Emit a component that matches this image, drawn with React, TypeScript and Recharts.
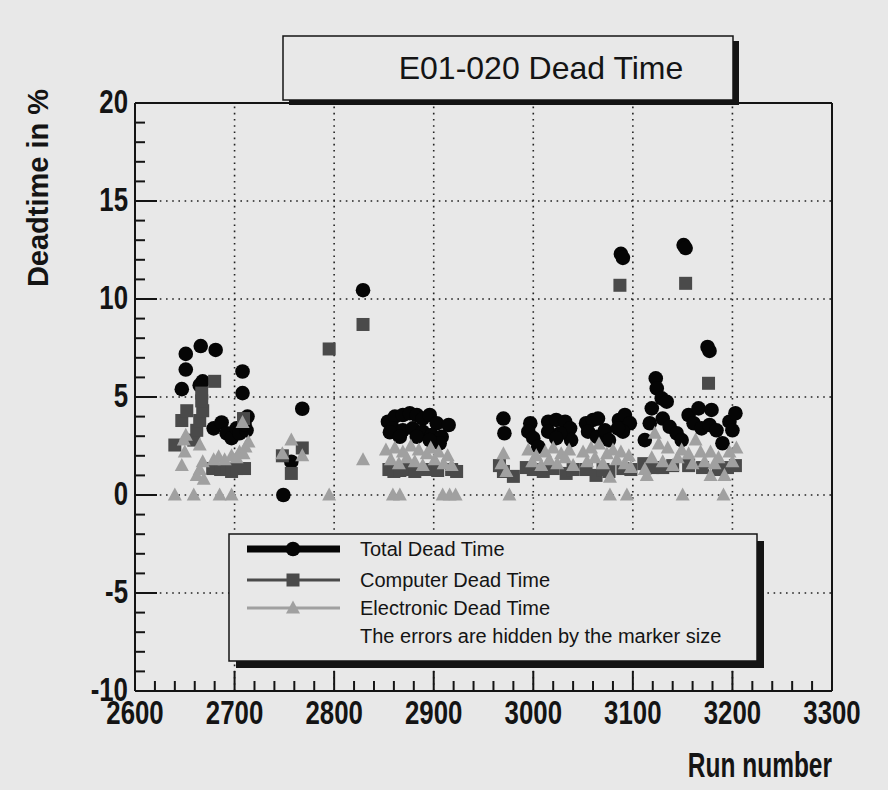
import React from "react";
import { ScatterChart, Scatter, XAxis, YAxis, ReferenceLine, Legend } from "recharts";

// run numbers and dead time (%) per series
const totalRuns = [
  2647, 2651, 2651, 2666, 2681, 2668, 2665, 2708, 2708, 2713, 2679, 2687, 2692, 2697, 2702, 2705, 2712, 2710,
  2749, 2757, 2768, 2829,
  2854, 2861, 2869, 2876, 2883, 2889, 2896, 2903, 2915, 2859, 2869, 2879, 2889, 2898, 2908, 2856, 2866, 2883, 2906, 2896,
  2970, 2971, 2997, 2995, 3000, 3005, 3015, 3023, 3032, 3037, 3038, 3015, 3027, 3023, 3053, 3060, 3065, 3055, 3064, 3072,
  3076, 3086, 3092, 3097, 3090, 3085, 3088, 3090,
  3123, 3124, 3129, 3119, 3134, 3117, 3112, 3130, 3137, 3144, 3149, 3156, 3166, 3179, 3161, 3169, 3177, 3184, 3190, 3197,
  3203, 3200, 3175, 3177, 3151, 3153,
];
const totalDeadTime = [
  5.4, 7.2, 6.4, 7.6, 7.4, 5.8, 5.6, 6.3, 5.2, 4.0, 3.4, 3.7, 3.15, 2.9, 3.4, 3.15, 3.3, 3.6,
  0.0, 1.7, 4.4, 10.45,
  3.74, 4.0, 4.08, 4.17, 4.08, 3.9, 4.08, 3.66, 3.57, 3.4, 3.3, 3.4, 3.23, 3.06, 2.97, 3.2, 2.97, 2.97, 2.64, 2.8,
  3.9, 3.15, 3.66, 3.23, 2.9, 2.46, 3.74, 3.83, 3.74, 3.4, 2.8, 3.23, 3.15, 2.9, 3.66, 3.83, 3.9, 3.23, 2.97, 3.3,
  2.8, 3.83, 4.08, 3.66, 3.23, 3.4, 12.3, 12.1,
  5.95, 5.44, 4.93, 4.42, 4.76, 3.66, 2.8, 3.9, 3.48, 3.15, 2.8, 4.08, 4.42, 4.34, 3.66, 3.4, 3.57, 3.3, 2.64, 3.74,
  4.17, 3.3, 7.55, 7.35, 12.75, 12.6,
];

const computerRuns = [
  2640, 2647, 2652, 2659, 2662, 2665, 2667, 2668, 2667, 2680, 2678, 2686, 2692, 2697, 2702, 2710, 2709,
  2748, 2757, 2768, 2795, 2829,
  2855, 2860, 2866, 2871, 2881, 2893, 2904, 2918, 2923,
  2966, 2970, 2980, 2993, 3000, 3010, 3020, 3033, 3040, 3053, 3063, 3070, 3076, 3087, 3090, 3098,
  3111, 3120, 3130, 3140, 3153, 3156, 3170, 3176, 3186, 3195, 3203,
];
const computerDeadTime = [
  2.55, 3.8, 4.3, 2.8, 3.3, 3.8, 5.2, 4.3, 4.8, 5.8, 1.35, 1.3, 1.3, 1.2, 1.35, 1.35, 3.9,
  2.0, 1.1, 2.4, 7.45, 8.7,
  1.3, 1.2, 1.25, 1.3, 1.2, 1.3, 1.25, 1.3, 1.2,
  1.5, 1.2, 0.95, 1.4, 1.3, 1.2, 1.35, 1.1, 1.3, 1.3, 1.0, 1.3, 1.2, 10.7, 1.35, 1.3,
  1.6, 1.4, 1.4, 1.5, 10.8, 1.5, 1.4, 5.7, 1.3, 1.4, 1.5,
];

const electronicRuns = [
  2640, 2659, 2685, 2697, 2795, 2859, 2866, 2909, 2916, 2922, 2976, 3077, 3094, 3150, 3191,
  2647, 2649, 2650, 2651, 2665, 2668, 2665, 2662, 2669, 2679, 2684, 2690, 2697, 2702, 2705, 2709, 2711, 2714, 2708,
  2748, 2757, 2768, 2829,
  2852, 2857, 2861, 2865, 2869, 2873, 2877, 2881, 2885, 2889, 2893, 2897, 2901, 2905, 2910, 2914, 2918,
  2968, 2970, 2973, 2995, 2999, 3003, 3008, 3012, 3016, 3020, 3024, 3028, 3032, 3036, 3040, 3050, 3054, 3058, 3062,
  3066, 3070, 3074, 3077, 3080, 3084, 3088, 3092, 3096, 3098,
  3112, 3114, 3119, 3122, 3126, 3130, 3135, 3140, 3145, 3149, 3156, 3160, 3163, 3168, 3172, 3178, 3178, 3182, 3186,
  3192, 3197, 3200, 3204,
];
const electronicDeadTime = [
  0, 0, 0, 0, 0, 0, 0, 0, 0, 0, 0, 0, 0, 0, 0,
  1.5, 2.8, 2.2, 3.05, 2.55, 1.7, 1.3, 1.0, 0.8, 1.8, 1.95, 1.8, 2.0, 1.9, 2.2, 2.1, 2.45, 2.7, 3.7,
  2.1, 2.8, 2.0, 1.8,
  2.3, 1.8, 2.4, 1.6, 2.2, 1.9, 2.5, 1.7, 2.3, 1.5, 2.1, 2.4, 1.8, 2.2, 1.6, 2.0, 1.5,
  1.6, 2.1, 1.2, 2.3, 1.7, 2.0, 1.5, 2.2, 1.8, 2.4, 1.6, 2.1, 1.9, 2.3, 1.5, 2.2, 1.7, 2.4, 1.9,
  2.6, 1.6, 2.1, 0.9, 2.3, 1.8, 2.2, 1.6, 2.0, 1.4,
  1.3, 1.0, 1.9, 3.15, 2.6, 1.7, 2.4, 1.5, 1.9, 2.3, 2.1, 1.6, 2.8, 2.2, 1.7, 2.2, 1.0, 1.6, 1.9,
  1.0, 2.2, 1.7, 2.4,
];

const xMajorTicks = [2600, 2700, 2800, 2900, 3000, 3100, 3200, 3300];
const yMajorTicks = [-10, -5, 0, 5, 10, 15, 20];

const BG = "#e8e8e8";
const INK = "#141414";
const TOTAL_COLOR = "#050505";
const COMPUTER_COLOR = "#4a4a4a";
const ELECTRONIC_COLOR = "#a0a0a0";
const SANS = "'Liberation Sans', Arial, Helvetica, sans-serif";

const toPoints = (runs: number[], values: number[]) => runs.map((run, i) => ({ run, dt: values[i] }));
const totalData = toPoints(totalRuns, totalDeadTime);
const computerData = toPoints(computerRuns, computerDeadTime);
const electronicData = toPoints(electronicRuns, electronicDeadTime);

// minor ticks: every 20 runs, every 1 %
const xTicks: number[] = [];
for (let v = 2600; v <= 3300; v += 20) xTicks.push(v);
const yTicks: number[] = [];
for (let v = -10; v <= 20; v += 1) yTicks.push(v);

const CircleMark = (p: any) => <circle cx={p.cx} cy={p.cy} r={7.3} fill={TOTAL_COLOR} />;
const SquareMark = (p: any) => (
  <rect x={p.cx - 6.5} y={p.cy - 6.5} width={13} height={13} fill={COMPUTER_COLOR} />
);
const TriangleMark = (p: any) => (
  <polygon
    points={`${p.cx},${p.cy - 7.5} ${p.cx + 7},${p.cy + 5.5} ${p.cx - 7},${p.cy + 5.5}`}
    fill={ELECTRONIC_COLOR}
  />
);

// bold condensed text (squeezed horizontally)
function NarrowText(props: {
  x: number;
  y: number;
  anchor: string;
  children: React.ReactNode;
  size?: number;
  squeeze?: number;
}) {
  return (
    <text
      transform={`translate(${props.x}, ${props.y}) scale(${props.squeeze ?? 0.76}, 1)`}
      textAnchor={props.anchor}
      fontFamily={SANS}
      fontWeight="bold"
      fontSize={props.size ?? 34}
      fill={INK}
    >
      {props.children}
    </text>
  );
}

function YTick(props: any) {
  const { x, y, payload } = props;
  const v = payload.value;
  const major = yMajorTicks.includes(v);
  return (
    <g>
      <line x1={x} x2={x + (major ? 22 : 10)} y1={y} y2={y} stroke={INK} strokeWidth={2} />
      {major && (
        <NarrowText x={x - 7} y={y + 10} anchor="end">
          {v}
        </NarrowText>
      )}
    </g>
  );
}

function XTick(props: any) {
  const { x, y, payload } = props;
  const v = payload.value;
  const major = xMajorTicks.includes(v);
  return (
    <g>
      <line x1={x} x2={x} y1={y} y2={y - (major ? 20 : 10)} stroke={INK} strokeWidth={2} />
      {major && (
        <NarrowText x={x} y={y + 33} anchor="middle">
          {v}
        </NarrowText>
      )}
    </g>
  );
}

const legendRows = [
  { name: "Total Dead Time", color: TOTAL_COLOR, width: 7, mark: "circle" },
  { name: "Computer Dead Time", color: COMPUTER_COLOR, width: 3, mark: "square" },
  { name: "Electronic Dead Time", color: ELECTRONIC_COLOR, width: 3, mark: "triangle" },
];

function LegendBox() {
  const rowY = [16, 47, 75];
  return (
    <svg width={540} height={140} style={{ display: "block" }}>
      <rect x={8} y={8} width={528} height={127} fill={INK} />
      <rect x={1} y={1} width={528} height={127} fill={BG} stroke={INK} strokeWidth={1.5} />
      {legendRows.map((r, i) => {
        const cy = rowY[i];
        return (
          <g key={r.name}>
            <line x1={19} x2={112} y1={cy} y2={cy} stroke={r.color} strokeWidth={r.width} />
            {r.mark === "circle" && <CircleMark cx={65} cy={cy} />}
            {r.mark === "square" && <SquareMark cx={65} cy={cy} />}
            {r.mark === "triangle" && <TriangleMark cx={65} cy={cy} />}
            <text x={132} y={cy} dy="0.35em" fontFamily={SANS} fontSize={20} fill={INK}>
              {r.name}
            </text>
          </g>
        );
      })}
      <text x={132} y={103} dy="0.35em" fontFamily={SANS} fontSize={20} fill={INK}>
        The errors are hidden by the marker size
      </text>
    </svg>
  );
}

export default function App() {
  return (
    <div style={{ position: "absolute", left: 0, top: 0, width: 888, height: 790, background: BG }}>
      <ScatterChart width={888} height={790} margin={{ top: 103, right: 56, bottom: 59, left: 35 }}>
        {xMajorTicks.slice(1, -1).map((v) => (
          <ReferenceLine key={`gx${v}`} x={v} stroke="#222" strokeWidth={1.6} strokeDasharray="1.6 4.6" zIndex={-100} />
        ))}
        {yMajorTicks.slice(1, -1).map((v) => (
          <ReferenceLine key={`gy${v}`} y={v} stroke="#222" strokeWidth={1.6} strokeDasharray="1.6 4.6" zIndex={-100} />
        ))}
        <ReferenceLine y={20} stroke={INK} strokeWidth={2} />
        <ReferenceLine x={3300} stroke={INK} strokeWidth={2} />
        <XAxis
          type="number"
          dataKey="run"
          domain={[2600, 3300]}
          ticks={xTicks}
          interval={0}
          height={40}
          tickSize={0}
          tickMargin={0}
          tickLine={false}
          axisLine={{ stroke: INK, strokeWidth: 2 }}
          tick={<XTick />}
          label={(p: any) => (
            <NarrowText x={p.viewBox.x + p.viewBox.width} y={p.viewBox.y + 86} anchor="end" size={35} squeeze={0.7}>
              Run number
            </NarrowText>
          )}
        />
        <YAxis
          type="number"
          dataKey="dt"
          domain={[-10, 20]}
          ticks={yTicks}
          interval={0}
          width={100}
          tickSize={0}
          tickMargin={0}
          tickLine={false}
          axisLine={{ stroke: INK, strokeWidth: 2 }}
          tick={<YTick />}
          label={(p: any) => (
            <text
              transform={`translate(${p.viewBox.x + 13}, 188) rotate(-90)`}
              textAnchor="middle"
              fontFamily={SANS}
              fontWeight="bold"
              fontSize={29}
              fill={INK}
            >
              Deadtime in %
            </text>
          )}
        />
        <Scatter name="Total Dead Time" data={totalData} shape={CircleMark} isAnimationActive={false} />
        <Scatter name="Computer Dead Time" data={computerData} shape={SquareMark} isAnimationActive={false} />
        <Scatter name="Electronic Dead Time" data={electronicData} shape={TriangleMark} isAnimationActive={false} />
        <Legend
          layout="horizontal"
          verticalAlign="middle"
          align="center"
          wrapperStyle={{ left: 228, top: 533, width: 540, height: 140 }}
          content={() => <LegendBox />}
        />
        <g>
          <rect x={289} y={41} width={450} height={64} fill={INK} />
          <rect x={283} y={36} width={450} height={64} fill={BG} stroke={INK} strokeWidth={1.5} />
          <text x={541} y={68} dy="0.35em" textAnchor="middle" fontFamily={SANS} fontSize={32} fill={INK}>
            E01-020 Dead Time
          </text>
        </g>
      </ScatterChart>
    </div>
  );
}
